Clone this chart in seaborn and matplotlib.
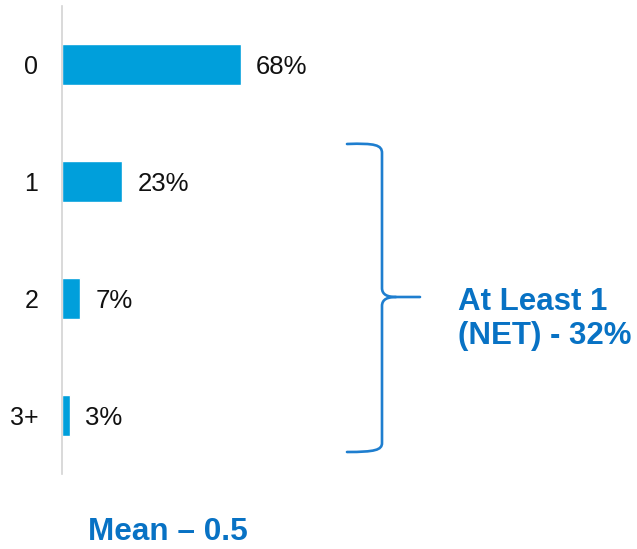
import matplotlib
matplotlib.use("Agg")
import matplotlib.pyplot as plt
from matplotlib.path import Path
from matplotlib.patches import PathPatch
import seaborn as sns
import pandas as pd

categories = ["0", "1", "2", "3+"]
values = [68, 23, 7, 3]
value_labels = ["68%", "23%", "7%", "3%"]
net_text = "At Least 1\n(NET) - 32%"
mean_text = "Mean – 0.5"

BAR = "#009FDB"
DARK = "#0872C4"
BRACE = "#1E7ECF"

sns.set_theme(style="white")
plt.rcParams["font.family"] = ["Liberation Sans", "DejaVu Sans"]

W, H = 637, 549
fig = plt.figure(figsize=(W / 100, H / 100), dpi=100)

def fx(x):
    return x / W

def fy(y):
    return 1 - y / H

ax = fig.add_axes([fx(62), fy(474), 263 / W, 468 / H])
df = pd.DataFrame({"cat": categories, "val": values})
sns.barplot(data=df, x="val", y="cat", orient="h", color=BAR, width=0.35,
            saturation=1, ax=ax)
ax.set_xlim(0, 100)
ax.set_ylim(3.5, -0.5)
ax.set_xlabel("")
ax.set_ylabel("")
ax.set_xticks([])
ax.tick_params(axis="y", length=0, pad=17, labelsize=18, labelcolor="#111111")
for s in ["top", "right", "bottom"]:
    ax.spines[s].set_visible(False)
ax.spines["left"].set_color("#d3d3d3")
ax.spines["left"].set_linewidth(1.2)
texts = ax.bar_label(ax.containers[0], labels=value_labels, padding=11,
                     fontsize=18.5, color="#111111")
for t in texts:
    t.set_va("center_baseline")

# curly brace in pixel coordinates
pts = [
    (347, 144), (375, 143), (382, 145), (382, 153),
    (382, 288),
    (382, 295), (388, 297), (396, 297),
    (420, 297),
]
codes = [Path.MOVETO, Path.CURVE4, Path.CURVE4, Path.CURVE4,
         Path.LINETO,
         Path.CURVE4, Path.CURVE4, Path.CURVE4,
         Path.LINETO]
pts2 = [
    (396, 297), (388, 297), (382, 299), (382, 306),
    (382, 443),
    (382, 450), (375, 452), (347, 452),
]
codes2 = [Path.MOVETO, Path.CURVE4, Path.CURVE4, Path.CURVE4,
          Path.LINETO,
          Path.CURVE4, Path.CURVE4, Path.CURVE4]
for p, c in [(pts, codes), (pts2, codes2)]:
    path = Path([(fx(x), fy(y)) for x, y in p], c)
    fig.patches.append(PathPatch(path, transform=fig.transFigure, fill=False,
                                 edgecolor=BRACE, linewidth=1.9,
                                 capstyle="round", joinstyle="round"))

fig.text(fx(458), fy(319), net_text, ha="left", va="center", fontsize=22.5,
         fontweight="bold", color=DARK, linespacing=1.2)
fig.text(fx(88), fy(540), mean_text, ha="left", va="baseline", fontsize=22.7,
         fontweight="bold", color=DARK)

fig.savefig("out.png", dpi=100)
